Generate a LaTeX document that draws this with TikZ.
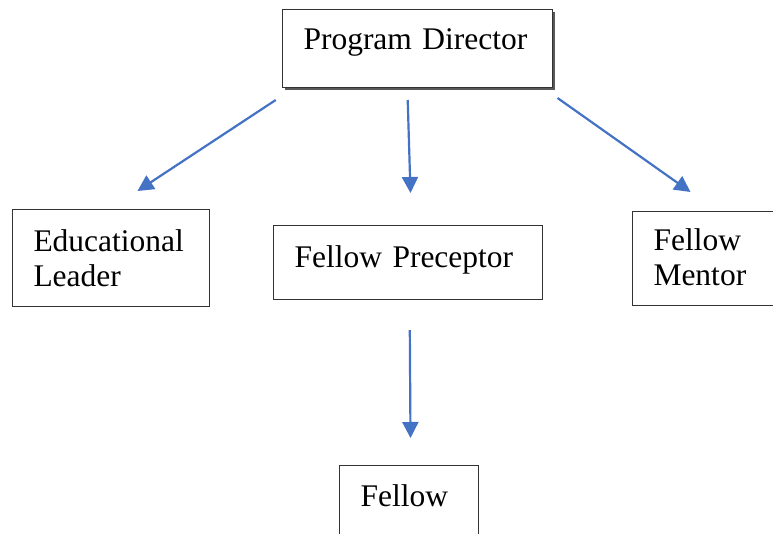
\documentclass[tikz,border=0pt]{standalone}
\usepackage{fontspec}
\setmainfont{Liberation Serif}
\usetikzlibrary{arrows.meta,shadows}
\definecolor{arrowblue}{RGB}{68,114,196}
\begin{document}
\begin{tikzpicture}[x=1pt, y=1pt,
    every node/.style = {shape=rectangle, draw=black!80, line width=1pt,
    fill=white, anchor=north west, align=left, inner xsep=21pt,
    inner ysep=0pt, font=\fontsize{31.5}{35}\selectfont},
    link/.style = {draw=arrowblue, line width=2.2pt,
    -{Triangle[width=16pt,length=16pt]}}]
    \useasboundingbox (0,0) rectangle (773,-533);
    \clip (0,0) rectangle (773,-533);
    % boxes
    \node (director) [text width=228pt, text height=40pt, text depth=37.7pt,
      drop shadow={shadow xshift=2.5pt, shadow yshift=-2.5pt, fill=black!65,
      opacity=1}] at (282,-9.3) {Program Director};
    \node (leader) [text width=155pt, text height=42pt, text depth=55pt]
      at (12,-209) {Educational\\Leader};
    \node (preceptor) [text width=227pt, text height=42pt, text depth=32pt]
      at (273,-225) {Fellow Preceptor};
    \node (mentor) [text width=108pt, text height=39pt, text depth=55pt]
      at (632,-211) {Fellow\\Mentor};
    \node (fellow) [text width=97pt, text height=41pt, text depth=45pt]
      at (339,-465) {Fellow};
    % arrows
    \draw[link] ([xshift=-6.3pt,yshift=-12pt]director.south west)
      -- ([xshift=26.5pt,yshift=18pt]leader.north);
    \draw[link] ([xshift=-9.8pt,yshift=-12pt]director.south)
      -- ([xshift=2.5pt,yshift=32pt]preceptor.north);
    \draw[link] ([xshift=4.5pt,yshift=-10pt]director.south east)
      -- ([xshift=-17pt,yshift=19pt]mentor.north);
    \draw[link] ([xshift=1.8pt,yshift=-30pt]preceptor.south)
      -- ([xshift=1.5pt,yshift=27pt]fellow.north);
\end{tikzpicture}
\end{document}
